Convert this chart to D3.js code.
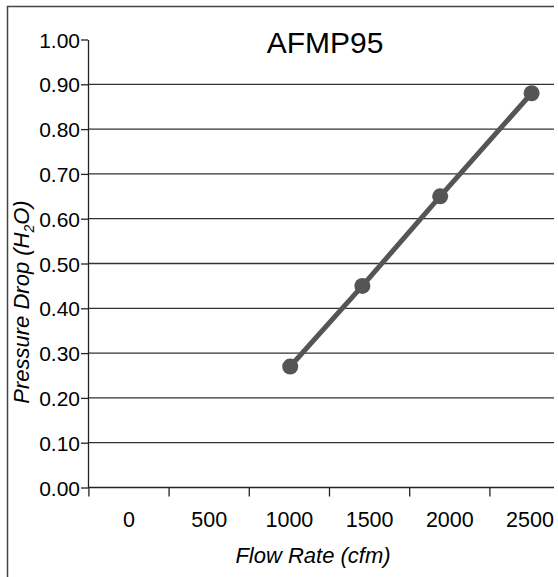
<!DOCTYPE html>
<html>
<head>
<meta charset="utf-8">
<script src="https://cdn.jsdelivr.net/npm/d3@7"></script>
<style>
  body { margin: 0; background: #fff; }
  text { font-family: "Liberation Sans", Arial, sans-serif; fill: #000; }
</style>
</head>
<body>
<script>
const [W, H] = [558, 577];

// data
const flowRate = [1005, 1455, 1940, 2510];
const pressureDrop = [0.27, 0.45, 0.65, 0.88];
const xTickLabels = [0, 500, 1000, 1500, 2000, 2500];
const yTicks = [0, 0.1, 0.2, 0.3, 0.4, 0.5, 0.6, 0.7, 0.8, 0.9, 1.0];

function main() {
    const svg = d3.select('body').append('svg')
                  .attr('width', W).attr('height', H);

    // outer frame (only the left and top edges fall inside the picture)
    svg.append('path')
        .attr('d', 'M7.5,' + H + 'V6.5H' + 554)
        .attr('fill', 'none').attr('stroke', '#444').attr('stroke-width', 1.5);

    const left = 88, right = 554, top = 39.5, bottom = 487.5;

    // scales (labels sit half a step right of tick marks, like the original)
    const xScale = d3.scaleLinear().domain([0, 2500]).range([129, 530]);
    const yScale = d3.scaleLinear().domain([0, 1]).range([bottom, top]);

    // gridlines
    svg.append('g').selectAll('line')
        .data(yTicks.filter(d => d > 0 && d < 1)).enter()
        .append('line')
        .attr('x1', left).attr('x2', right)
        .attr('y1', d => yScale(d)).attr('y2', d => yScale(d))
        .attr('stroke', '#333').attr('stroke-width', 1.3);

    // y axis
    const yAxis = d3.axisLeft(yScale).tickValues(yTicks)
                    .tickFormat(d3.format('.2f')).tickSize(7).tickSizeOuter(0);
    const gy = svg.append('g')
        .attr('transform', 'translate(' + left + ',0)')
        .call(yAxis);
    gy.select('.domain').attr('stroke', '#222').attr('stroke-width', 1.3);
    gy.selectAll('.tick line').attr('stroke', '#222').attr('stroke-width', 1.3);
    gy.selectAll('.tick text').attr('x', -8).attr('dy', '0.36em').style('font-size', '21px')
        .style('font-family', '"Liberation Sans", Arial, sans-serif').attr('fill', '#000');

    // x axis: tick marks every 500, labels centred between them
    const step = xScale(500) - xScale(0);
    svg.append('line')
        .attr('x1', left).attr('x2', right)
        .attr('y1', bottom).attr('y2', bottom)
        .attr('stroke', '#222').attr('stroke-width', 1.3);
    svg.append('g').selectAll('line')
        .data(xTickLabels).enter()
        .append('line')
        .attr('x1', d => xScale(d) - step / 2).attr('x2', d => xScale(d) - step / 2)
        .attr('y1', bottom).attr('y2', bottom + 9)
        .attr('stroke', '#222').attr('stroke-width', 1.3);
    svg.append('g').selectAll('text')
        .data(xTickLabels).enter()
        .append('text')
        .attr('x', d => xScale(d))
        .attr('y', 527)
        .style('text-anchor', 'middle')
        .style('font-size', '21.5px')
        .text(d => d);

    // series
    const pts = flowRate.map((f, i) => [f, pressureDrop[i]]);
    svg.append('path')
        .datum(pts)
        .attr('d', d3.line().x(d => xScale(d[0])).y(d => yScale(d[1])))
        .attr('fill', 'none').attr('stroke', '#555').attr('stroke-width', 5);
    svg.selectAll('circle')
        .data(pts).enter()
        .append('circle')
        .attr('cx', d => xScale(d[0]))
        .attr('cy', d => yScale(d[1]))
        .attr('r', 8)
        .attr('fill', '#555');

    // title
    svg.append('text')
        .attr('x', 325).attr('y', 53)
        .style('text-anchor', 'middle').style('font-size', '30px')
        .text('AFMP95');

    // axis titles
    svg.append('text')
        .attr('x', 313).attr('y', 563)
        .style('text-anchor', 'middle').style('font-size', '22px').style('font-style', 'italic')
        .text('Flow Rate (cfm)');

    const yt = svg.append('text')
        .attr('transform', 'translate(29,' + 302 + ') rotate(-90)')
        .style('text-anchor', 'middle').style('font-size', '22px').style('font-style', 'italic');
    yt.append('tspan').text('Pressure Drop (H');
    yt.append('tspan').attr('dy', 5).style('font-size', '14px').text('2');
    yt.append('tspan').attr('dy', -5).text('O)');
}

document.addEventListener('DOMContentLoaded', main);
</script>
</body>
</html>
